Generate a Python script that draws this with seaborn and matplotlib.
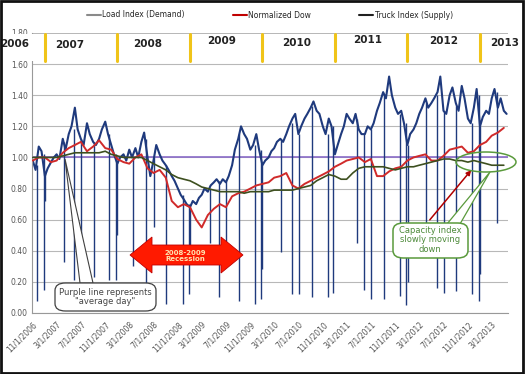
import pandas as pd
import numpy as np
import seaborn as sns
import matplotlib.pyplot as plt
import matplotlib.dates as mdates
from matplotlib.patches import Rectangle, Polygon, FancyBboxPatch, Ellipse
from matplotlib.lines import Line2D
import matplotlib.transforms as mtransforms

# 1. data
# load index, 1st and 15th of each month, Nov 2006 - May 2013
load_values = [
    0.98, 0.92, 1.07, 1.04,                                        # 2006 Nov-Dec
    0.88, 0.93, 0.97, 1.00, 1.02, 0.99, 1.12, 1.05, 1.15, 1.20, 1.32, 1.18,
    1.12, 1.08, 1.22, 1.15, 1.10, 1.08, 1.12, 1.18, 1.23, 1.15, 1.08, 1.02,   # 2007
    0.96, 1.00, 1.02, 0.98, 1.05, 1.00, 1.06, 1.00, 1.10, 1.16, 1.00, 0.88,
    0.98, 1.08, 1.02, 0.98, 0.95, 0.92, 0.88, 0.85, 0.80, 0.76, 0.73, 0.70,   # 2008
    0.68, 0.72, 0.70, 0.74, 0.76, 0.80, 0.78, 0.82, 0.84, 0.86, 0.83, 0.86,
    0.84, 0.88, 0.95, 1.05, 1.12, 1.20, 1.15, 1.12, 1.05, 1.08, 1.15, 1.05,   # 2009
    0.95, 0.98, 1.00, 1.04, 1.06, 1.10, 1.12, 1.10, 1.15, 1.20, 1.25, 1.28,
    1.15, 1.20, 1.25, 1.28, 1.32, 1.36, 1.30, 1.28, 1.20, 1.15, 1.25, 1.20,   # 2010
    1.02, 1.08, 1.15, 1.20, 1.28, 1.25, 1.22, 1.28, 1.18, 1.15, 1.15, 1.20,
    1.18, 1.22, 1.30, 1.35, 1.42, 1.38, 1.52, 1.40, 1.32, 1.28, 1.30, 1.22,   # 2011
    1.08, 1.15, 1.18, 1.22, 1.28, 1.32, 1.38, 1.32, 1.35, 1.38, 1.42, 1.52,
    1.30, 1.28, 1.40, 1.45, 1.35, 1.30, 1.46, 1.38, 1.25, 1.22, 1.32, 1.44,   # 2012
    1.20, 1.26, 1.30, 1.28, 1.38, 1.44, 1.32, 1.38, 1.30, 1.28,               # 2013 Jan-May
]
# normalized dow and truck index, monthly Nov 2006 - May 2013
dow_values = [
    0.98, 1.00,
    1.00, 0.97, 0.98, 1.03, 1.06, 1.08, 1.10, 1.04, 1.07, 1.11, 1.06, 1.05,
    0.99, 0.97, 0.96, 1.00, 1.02, 0.93, 0.90, 0.92, 0.87, 0.72, 0.68, 0.70,
    0.68, 0.60, 0.55, 0.63, 0.67, 0.70, 0.68, 0.75, 0.77, 0.78, 0.80, 0.82,
    0.83, 0.84, 0.87, 0.88, 0.90, 0.82, 0.80, 0.83, 0.85, 0.87, 0.89, 0.91,
    0.94, 0.96, 0.98, 0.99, 1.00, 0.97, 0.99, 0.88, 0.88, 0.91, 0.93, 0.94,
    0.98, 1.00, 1.01, 1.02, 0.98, 0.98, 1.01, 1.05, 1.06, 1.07, 1.03, 1.04,
    1.08, 1.10, 1.14, 1.16, 1.19,
]
truck_values = [
    1.00, 1.00,
    1.00, 1.00, 1.00, 1.01, 1.02, 1.03, 1.03, 1.03, 1.03, 1.03, 1.04, 1.02,
    1.01, 1.00, 1.00, 1.00, 1.00, 0.98, 0.96, 0.94, 0.92, 0.89, 0.87, 0.86,
    0.85, 0.83, 0.81, 0.80, 0.79, 0.78, 0.78, 0.78, 0.78, 0.77, 0.78, 0.78,
    0.78, 0.78, 0.79, 0.79, 0.79, 0.79, 0.80, 0.81, 0.82, 0.85, 0.87, 0.89,
    0.88, 0.86, 0.86, 0.90, 0.93, 0.94, 0.94, 0.94, 0.94, 0.93, 0.92, 0.93,
    0.94, 0.94, 0.95, 0.96, 0.97, 0.98, 0.99, 0.99, 0.98, 0.98, 0.97, 0.98,
    0.97, 0.96, 0.95, 0.95, 0.95,
]
# holiday drops of the load index: date, top, bottom
dip_dates = ['2006-11-23', '2006-12-25', '2007-01-01', '2007-04-06', '2007-05-28', '2007-07-04',
             '2007-09-03', '2007-11-22', '2007-12-25', '2008-01-01', '2008-03-21', '2008-05-26',
             '2008-07-04', '2008-09-01', '2008-11-27', '2008-12-25', '2009-01-01', '2009-04-10',
             '2009-05-25', '2009-07-03', '2009-09-07', '2009-11-26', '2009-12-25', '2010-01-01',
             '2010-04-02', '2010-05-31', '2010-07-05', '2010-09-06', '2010-11-25', '2010-12-24',
             '2011-04-22', '2011-05-30', '2011-07-04', '2011-09-05', '2011-11-24', '2011-12-26',
             '2012-01-02', '2012-04-06', '2012-05-28', '2012-07-04', '2012-09-03', '2012-11-22',
             '2012-12-25', '2013-01-01', '2013-03-29']
dip_tops = [0.95, 1.02, 0.90, 1.10, 1.18, 1.12, 1.10, 1.15, 1.02, 0.98, 1.00, 1.12,
            1.00, 0.95, 0.76, 0.70, 0.68, 0.80, 0.85, 0.85, 1.15, 1.08, 1.05, 0.95,
            1.12, 1.22, 1.15, 1.33, 1.15, 1.20, 1.25, 1.15, 1.18, 1.40, 1.28, 1.22,
            1.08, 1.35, 1.40, 1.30, 1.33, 1.22, 1.40, 1.20, 1.42]
dip_bottoms = [0.08, 0.15, 0.72, 0.33, 0.21, 0.21, 0.23, 0.21, 0.21, 0.50, 0.30, 0.06,
               0.55, 0.06, 0.06, 0.12, 0.35, 0.45, 0.10, 0.40, 0.08, 0.06, 0.09, 0.28,
               0.39, 0.12, 0.12, 0.10, 0.10, 0.13, 0.45, 0.15, 0.09, 0.09, 0.11, 0.05,
               0.20, 0.45, 0.16, 0.13, 0.14, 0.12, 0.08, 0.25, 0.58]
years = ['2006', '2007', '2008', '2009', '2010', '2011', '2012', '2013']
y_ticks = [0.0, 0.2, 0.4, 0.6, 0.8, 1.0, 1.2, 1.4, 1.6, 1.8]

months = pd.date_range('2006-11-01', '2013-05-01', freq='MS')
load_dates = []
for m in months:
    load_dates += [m, m + pd.Timedelta(days=14)]
df_load = pd.DataFrame({'date': load_dates, 'value': load_values})
df_dow = pd.DataFrame({'date': months, 'value': dow_values})
df_truck = pd.DataFrame({'date': months, 'value': truck_values})
dips = pd.to_datetime(dip_dates)

# 2. figure
sns.set_style('white')
plt.rcParams['font.family'] = ['DejaVu Sans']
W, H = 525, 374
fig = plt.figure(figsize=(W / 100, H / 100), dpi=100)

def px(x, y):
    return (x / W, 1 - y / H)

ax = fig.add_axes([32 / W, 1 - 313 / H, 476 / W, 280 / H])

navy = '#1f3a7d'
ax.vlines(dips, dip_bottoms, dip_tops, color=navy, lw=1.0, zorder=2)
sns.lineplot(data=df_load, x='date', y='value', color=navy, lw=1.5, ax=ax, zorder=2)
sns.lineplot(data=df_dow, x='date', y='value', color='#d02a2a', lw=1.4, ax=ax, zorder=3)
sns.lineplot(data=df_truck, x='date', y='value', color='#3d4f1f', lw=1.2, ax=ax, zorder=4)
ax.axhline(1.0, color='#8a6cc8', lw=1.2, zorder=1)

ax.set_ylim(0, 1.8)
ax.set_yticks(y_ticks)
ax.set_yticklabels([f'{v:.2f}' for v in y_ticks], fontsize=5.5, color='#555555')
ax.grid(axis='y', color='#b8b8b8', lw=0.8)
ax.grid(axis='x', visible=False)
ax.set_xlim(pd.Timestamp('2006-10-28'), pd.Timestamp('2013-05-22'))
xt = pd.date_range('2006-11-01', '2013-03-01', freq='4MS')
ax.set_xticks(xt)
ax.set_xticklabels([f'{d.month}/{d.day}/{d.year}' for d in xt], rotation=45, ha='right',
                   rotation_mode='anchor', fontsize=5.5, color='#555555')
ax.tick_params(axis='x', length=3, color='#999999', pad=2)
ax.tick_params(axis='y', length=0, pad=3)
ax.set_xlabel('')
ax.set_ylabel('')
for s in ['top', 'right']:
    ax.spines[s].set_visible(False)
ax.spines['left'].set_color('#999999')
ax.spines['bottom'].set_color('#999999')

# year banner
fig.add_artist(Rectangle(px(2, 61), 521 / W, 27 / H, transform=fig.transFigure,
                         fc='white', ec='none', zorder=5))
blend = mtransforms.blended_transform_factory(ax.transData, fig.transFigure)
for yr in years[1:]:
    x0 = mdates.date2num(pd.Timestamp(f'{yr}-01-01'))
    fig.add_artist(Line2D([x0, x0], [1 - 61 / H, 1 - 34 / H],
                          transform=blend, color='#f0c419', lw=2.2, zorder=6))
year_pos = [(15, 44), (70, 45), (148, 44), (222, 41), (297, 43), (368, 40), (444, 41), (505, 43)]
for yr, (x, y) in zip(years, year_pos):
    fig.text(*px(x, y), yr, ha='center', va='center', fontsize=7.5, fontweight='bold',
             color='#222222', zorder=7)

# legend
handles = [Line2D([], [], color='#8a8a8a', lw=1.5),
           Line2D([], [], color='#c00000', lw=1.5),
           Line2D([], [], color='#202020', lw=1.5)]
fig.legend(handles, ['Load Index (Demand)', 'Normalized Dow', 'Truck Index (Supply)'],
           loc='center', bbox_to_anchor=px(270, 15), ncol=3, frameon=False, fontsize=5.5,
           handlelength=1.8, handletextpad=0.2, columnspacing=6.3)

# purple-line callout
fig.add_artist(Polygon([px(65, 159), px(80, 283), px(93, 283)], closed=True,
                       transform=fig.transFigure, fc='white', ec='#404040', lw=0.8, zorder=8))
fig.add_artist(FancyBboxPatch(px(55, 311), 101 / W, 28 / H, boxstyle='round,pad=0,rounding_size=0.02',
                              transform=fig.transFigure, fc='white', ec='#404040', lw=0.9, zorder=9))
fig.text(*px(105, 297), 'Purple line represents\n"average day"', ha='center', va='center',
         fontsize=6, color='#444444', zorder=10, linespacing=1.1)

# recession arrow
arrow = [(130, 255), (152, 237), (152, 245), (221, 245), (221, 237), (243, 255),
         (221, 273), (221, 265), (152, 265), (152, 273)]
fig.add_artist(Polygon([px(x, y) for x, y in arrow], closed=True, transform=fig.transFigure,
                       fc='#ff1a00', ec='#c00000', lw=0.6, zorder=8))
fig.text(*px(185, 256), '2008-2009\nRecession', ha='center', va='center', fontsize=5,
         fontweight='bold', color='#ffe4b0', zorder=9, linespacing=1.1)

# capacity callout
fig.add_artist(Ellipse(px(486, 162), 60 / W, 20 / H, transform=fig.transFigure,
                       fc='none', ec='#5a9a3c', lw=1.1, zorder=8))
fig.add_artist(Polygon([px(490, 172), px(447, 224), px(460, 224)], closed=True,
                       transform=fig.transFigure, fc='white', ec='#5a9a3c', lw=0.9, zorder=8))
fig.add_artist(FancyBboxPatch(px(393, 258), 75 / W, 35 / H, boxstyle='round,pad=0,rounding_size=0.02',
                              transform=fig.transFigure, fc='white', ec='#5a9a3c', lw=1.1, zorder=9))
fig.text(*px(430, 240), 'Capacity index\nslowly moving\ndown', ha='center', va='center',
         fontsize=6, color='#4d8a3a', zorder=10, linespacing=1.1)
ax.annotate('', xy=px(473, 168), xytext=px(428, 222), xycoords='figure fraction',
            textcoords='figure fraction',
            arrowprops=dict(arrowstyle='-|>', color='#b00000', lw=1.1, mutation_scale=7),
            zorder=8)

# frame
fig.add_artist(Rectangle((0.002, 0.003), 0.995, 0.994, transform=fig.transFigure,
                         fc='none', ec='#111111', lw=2.0, zorder=12))

fig.savefig('out.png', dpi=100)
